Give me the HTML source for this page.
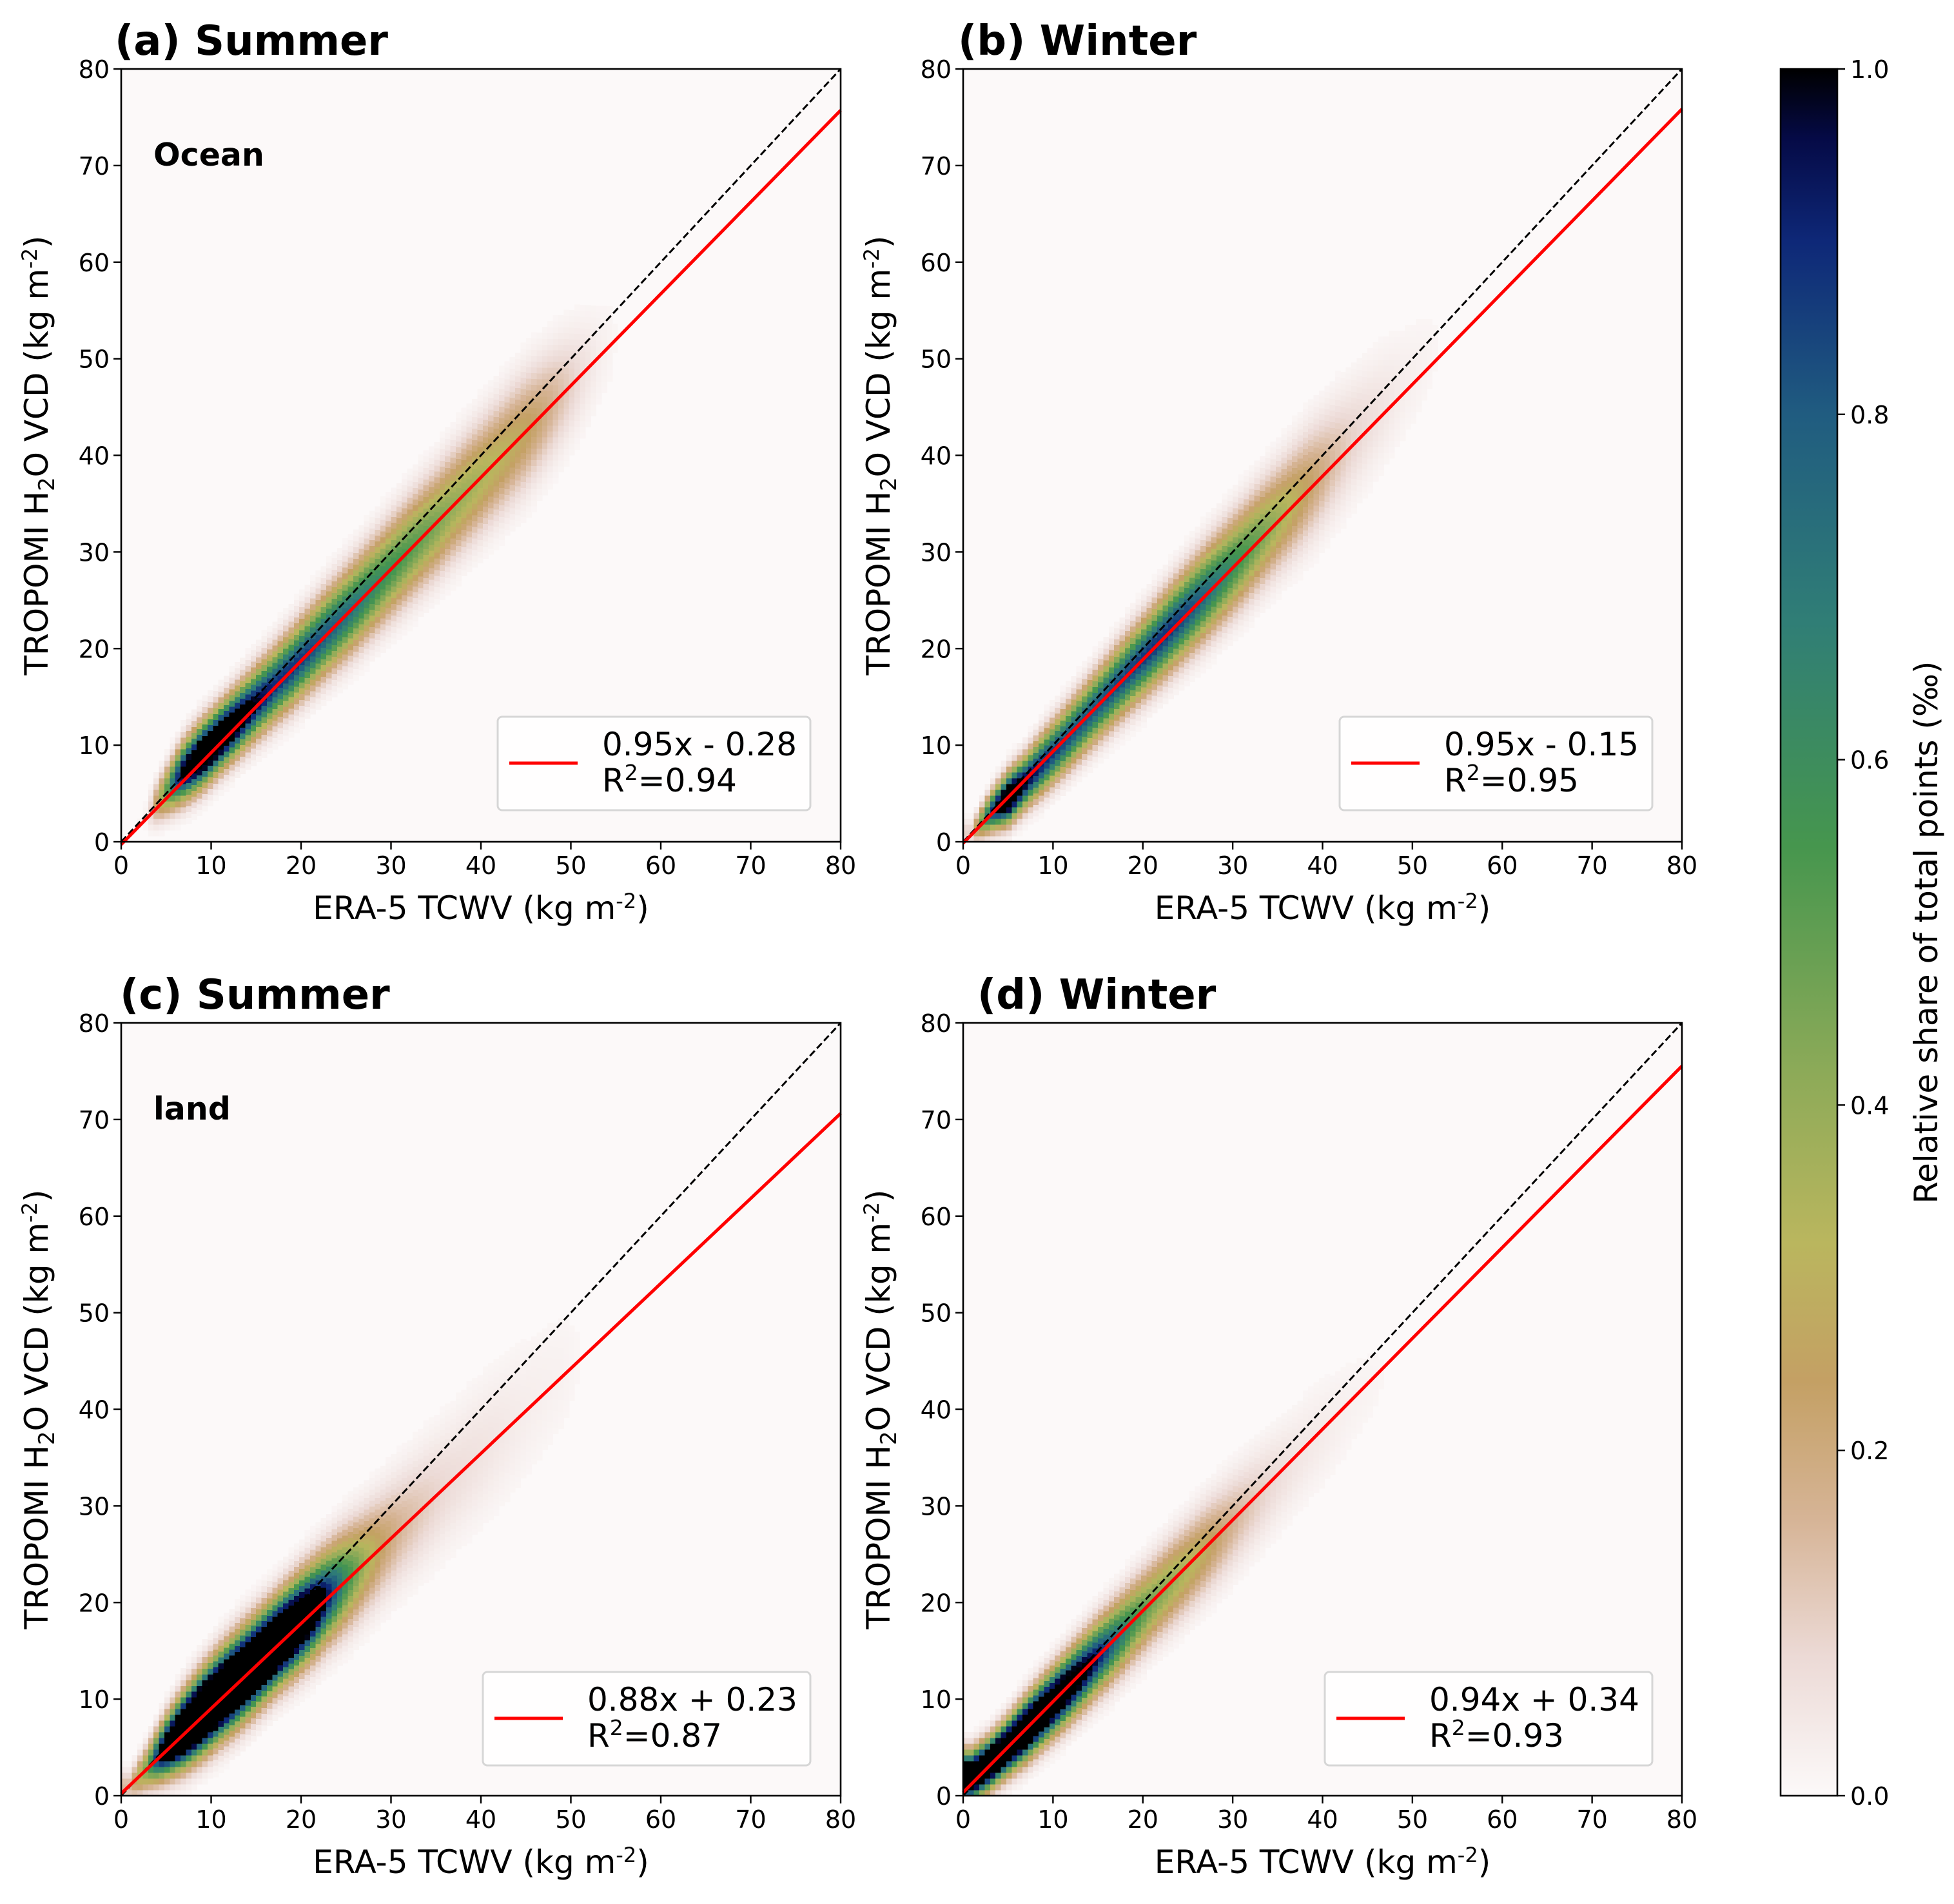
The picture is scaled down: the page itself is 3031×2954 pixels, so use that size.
<!DOCTYPE html>
<html><head><meta charset="utf-8"><style>
html,body{margin:0;padding:0;background:#fff}
svg{display:block;font-family:"DejaVu Sans","Liberation Sans",sans-serif}
</style></head><body>
<svg id="fig" width="3031" height="2954" viewBox="0 0 3031 2954" xmlns="http://www.w3.org/2000/svg"></svg>
<script>
// ----- data -----
const binX = [1,3,5,7,9,11,13,15,17,19,21,23,25,27,29,31,33,35,37,39,41,43,45,47,49,51,53,55,57];
// panel a (ocean summer)
const aCenter = [1,3,5.2,7.3,9,10.8,12.6,14.4,16.2,18,19.9,21.8,23.6,25.5,27.4,29.3,31.2,33,35,36.9,38.8,40.7,42.6,44.5,46.5,48.4,50.3,52.2,54];
const aSpread = [1,1.2,1.5,1.8,1.9,1.9,2.0,2.1,2.2,2.3,2.4,2.5,2.6,2.7,2.8,2.9,3,3.1,3.2,3.3,3.4,3.5,3.6,3.6,3.6,3.6,3.6,3.6,3.6];
const aPeak   = [0,0.02,0.5,1.1,1.4,1.4,1.2,1.0,0.9,0.88,0.85,0.8,0.75,0.68,0.6,0.55,0.5,0.45,0.4,0.37,0.33,0.3,0.26,0.2,0.13,0.07,0.03,0.01,0];
// panel b (ocean winter)
const bCenter = [1,3,4.5,6.3,8.3,10.2,12.2,14.2,16.2,18.1,20,22,23.9,25.8,27.7,29.6,31.6,33.5,35.5,37.5,39.5,41.5,43.5,45.5,47.5,49.5,51.5,53.5,55.5];
const bSpread = [0.8,1.2,1.5,1.6,1.8,1.9,2.0,2.1,2.2,2.3,2.4,2.5,2.6,2.7,2.8,2.9,3,3.1,3.3,3.5,3.6,3.7,3.8,3.8,3.8,3.8,3.8,3.8,3.8];
const bPeak   = [0.1,0.8,1.4,1.0,0.9,0.85,0.82,0.82,0.84,0.86,0.88,0.88,0.84,0.76,0.66,0.56,0.47,0.38,0.3,0.22,0.15,0.1,0.07,0.05,0.03,0.02,0.01,0,0];
// panel c (land summer)
const cCenter = [1,3,5,6.8,8.6,10.4,12.1,13.8,15.6,17.3,19,20.8,22.5,24.2,26,27.8,29.5,31.3,33,34.8,36.6,38.4,40.2,42,43.8,45.6,47.4,49.2,51];
const cSpread = [1,1.4,1.8,2.1,2.3,2.4,2.5,2.5,2.5,2.6,2.7,2.8,3.0,3.1,3.3,3.5,3.7,3.9,4.1,4.3,4.5,4.6,4.7,4.8,4.8,4.8,4.8,4.8,4.8];
const cPeak   = [0.15,0.5,1.3,1.9,2.1,2.1,2.0,2.0,1.9,1.7,1.4,0.95,0.6,0.38,0.24,0.16,0.12,0.09,0.07,0.06,0.05,0.04,0.03,0.025,0.02,0.01,0,0,0];
// panel d (land winter)
const dCenter = [2,3.4,5.1,6.9,8.8,10.6,12.5,14.4,16.2,18.1,20,21.9,23.7,25.6,27.4,29.3,31.1,33,34.8,36.7,38.5,40.4,42.2,44.1,45.9,47.8,49.6,51.5,53.3];
const dSpread = [1.5,1.5,1.6,1.8,1.9,2.0,2.1,2.2,2.3,2.4,2.5,2.6,2.7,2.8,2.9,3.0,3.1,3.2,3.3,3.4,3.5,3.6,3.6,3.6,3.6,3.6,3.6,3.6,3.6];
const dPeak   = [1.5,1.6,1.6,1.6,1.5,1.35,1.15,0.95,0.75,0.58,0.46,0.4,0.34,0.28,0.2,0.14,0.1,0.07,0.05,0.04,0.03,0.02,0.015,0.01,0,0,0,0,0];
const slopes = [0.95,0.95,0.88,0.94];
const intercepts = [-0.28,-0.15,0.23,0.34];
const r2 = [0.94,0.95,0.87,0.93];
const fitLabels = ["0.95x - 0.28","0.95x - 0.15","0.88x + 0.23","0.94x + 0.34"];
const titles = ["(a) Summer","(b) Winter","(c) Summer","(d) Winter"];
const axTicks = [0,10,20,30,40,50,60,70,80];
const cbTicks = [0,0.2,0.4,0.6,0.8,1.0];

// ----- layout -----
const NS="http://www.w3.org/2000/svg";
const svg=document.getElementById('fig');
function el(tag,attrs,parent){const e=document.createElementNS(NS,tag);for(const k in attrs)e.setAttribute(k,attrs[k]);(parent||svg).appendChild(e);return e;}
const panels=[
 {L:188,R:1304,T:107,B:1306,c:aCenter,s:aSpread,p:aPeak,legX:772,legY:1112,legW:485,tx:178,note:"Ocean"},
 {L:1494,R:2609,T:107,B:1306,c:bCenter,s:bSpread,p:bPeak,legX:2078,legY:1112,legW:485,tx:1486},
 {L:188,R:1304,T:1587,B:2786,c:cCenter,s:cSpread,p:cPeak,legX:749,legY:2594,legW:508,tx:186,note:"land"},
 {L:1494,R:2609,T:1587,B:2786,c:dCenter,s:dSpread,p:dPeak,legX:2055,legY:2594,legW:508,tx:1516}
];
const stops=[[0,[252,249,249]],[0.08,[236,218,214]],[0.16,[214,180,150]],[0.24,[196,160,100]],[0.32,[186,182,94]],[0.42,[140,170,88]],[0.55,[70,150,78]],[0.68,[48,126,118]],[0.8,[32,92,128]],[0.9,[14,40,120]],[0.96,[5,10,70]],[1,[0,0,0]]];
function cmap(v){v=Math.max(0,Math.min(1,v));for(let i=1;i<stops.length;i++){if(v<=stops[i][0]){const a=stops[i-1],b=stops[i];const t=(v-a[0])/(b[0]-a[0]);const c=a[1].map((x,j)=>Math.round(x+(b[1][j]-x)*t));return `rgb(${c[0]},${c[1]},${c[2]})`;}}return 'rgb(0,0,0)';}
function interp(arr,x){if(x<=binX[0])return arr[0];for(let i=1;i<binX.length;i++){if(x<=binX[i]){const t=(x-binX[i-1])/(binX[i]-binX[i-1]);return arr[i-1]+(arr[i]-arr[i-1])*t;}}return arr[arr.length-1];}

panels.forEach((P,pi)=>{
 const g=el('g',{});
 
 
 const sx=v=>P.L+(P.R-P.L)*v/80, sy=v=>P.B-(P.B-P.T)*v/80;
 const bg=el('rect',{x:P.L,y:P.T,width:P.R-P.L,height:P.B-P.T,fill:'rgb(252,249,249)'},g);
 
 
 const hg=el('g',{'shape-rendering':'crispEdges'},g);
 
 
 const step=0.6;
 for(let x=0.3;x<60;x+=step){
  const c=interp(P.c,x),s=interp(P.s,x),pk=interp(P.p,x);
  if(pk<=0.005)continue;
  for(let y=Math.max(0.3,c-4*s);y<c+4*s&&y<80;y+=step){
   const v=pk*Math.exp(-0.5*((y-c)/s)**2);
   if(v<0.01)continue;
   el('rect',{x:sx(x-step/2).toFixed(1),y:sy(y+step/2).toFixed(1),width:(sx(step)-sx(0)+0.6).toFixed(1),height:(sy(0)-sy(step)+0.6).toFixed(1),fill:cmap(v)},hg);
  }
 }
 const dl=el('line',{x1:sx(0),y1:sy(0),x2:sx(80),y2:sy(80),stroke:'#000','stroke-width':3,'stroke-dasharray':'11,5'},g);
 
 
 const fl=el('line',{x1:sx(0),y1:sy(intercepts[pi]),x2:sx(80),y2:sy(slopes[pi]*80+intercepts[pi]),stroke:'#ff0000','stroke-width':5},g);
 
 
 const fr=el('rect',{x:P.L,y:P.T,width:P.R-P.L,height:P.B-P.T,fill:'none',stroke:'#000','stroke-width':2.6},g);
 
 
 axTicks.forEach(t=>{
  el('line',{x1:sx(t),y1:P.B,x2:sx(t),y2:P.B+12,stroke:'#000','stroke-width':2.4},g);
  const xt=el('text',{x:sx(t),y:P.B+50,'font-size':38,'text-anchor':'middle'},g);xt.textContent=t;
  
  
  el('line',{x1:P.L-12,y1:sy(t),x2:P.L,y2:sy(t),stroke:'#000','stroke-width':2.4},g);
  const yt=el('text',{x:P.L-18,y:sy(t)+14,'font-size':38,'text-anchor':'end'},g);yt.textContent=t;
  
  
 });
 const xl=el('text',{x:(P.L+P.R)/2,y:P.B+120,'font-size':50,'text-anchor':'middle'},g);
 xl.innerHTML='ERA-5 TCWV (kg m<tspan font-size="32" dy="-17">-2</tspan><tspan dy="17">)</tspan>';
 
 
 const yl=el('text',{x:0,y:0,'font-size':50,'text-anchor':'middle',transform:`translate(${P.L-114},${(P.T+P.B)/2}) rotate(-90)`},g);
 yl.innerHTML='TROPOMI H<tspan font-size="34" dy="10">2</tspan><tspan dy="-10">O VCD (kg m</tspan><tspan font-size="32" dy="-17">-2</tspan><tspan dy="17">)</tspan>';
 
 
 const tt=el('text',{x:P.tx,y:P.T-22,'font-size':64,'font-weight':'bold'},g);tt.textContent=titles[pi];
 
 
 if(P.note){const n=el('text',{x:P.L+50,y:P.T+150,'font-size':49,'font-weight':'bold'},g);n.textContent=P.note;
  
  }
 const lg=el('g',{},g);
 
 
 el('rect',{x:P.legX,y:P.legY,width:P.legW,height:145,rx:7,fill:'#fff','fill-opacity':0.85,stroke:'#d6d6d6','stroke-width':3},lg);
 el('line',{x1:P.legX+18,y1:P.legY+72,x2:P.legX+124,y2:P.legY+72,stroke:'#ff0000','stroke-width':5},lg);
 const l1=el('text',{x:P.legX+162,y:P.legY+60,'font-size':50},lg);l1.textContent=fitLabels[pi];
 const l2=el('text',{x:P.legX+162,y:P.legY+116,'font-size':50},lg);
 l2.innerHTML='R<tspan font-size="33" dy="-18">2</tspan><tspan dy="18">='+r2[pi].toFixed(2)+'</tspan>';
});

// colorbar
const CB={L:2762,R:2850,T:107,B:2786};
const cg=el('g',{});


const defs=el('defs',{});
const lgd=el('linearGradient',{id:'cbg',x1:0,y1:1,x2:0,y2:0},defs);
stops.forEach(s=>el('stop',{offset:s[0],'stop-color':cmap(s[0])},lgd));
el('rect',{x:CB.L,y:CB.T,width:CB.R-CB.L,height:CB.B-CB.T,fill:'url(#cbg)',stroke:'#000','stroke-width':2.6},cg);
cbTicks.forEach(t=>{
 const y=CB.B-(CB.B-CB.T)*t;
 el('line',{x1:CB.R,y1:y,x2:CB.R+12,y2:y,stroke:'#000','stroke-width':2.4},cg);
 const tx=el('text',{x:CB.R+20,y:y+14,'font-size':38},cg);tx.textContent=t.toFixed(1);
 
 
});
const cl=el('text',{x:0,y:0,'font-size':50,'text-anchor':'middle',transform:`translate(3005,${(CB.T+CB.B)/2}) rotate(-90)`},cg);
cl.textContent='Relative share of total points (‰)';


</script>
</body></html>
